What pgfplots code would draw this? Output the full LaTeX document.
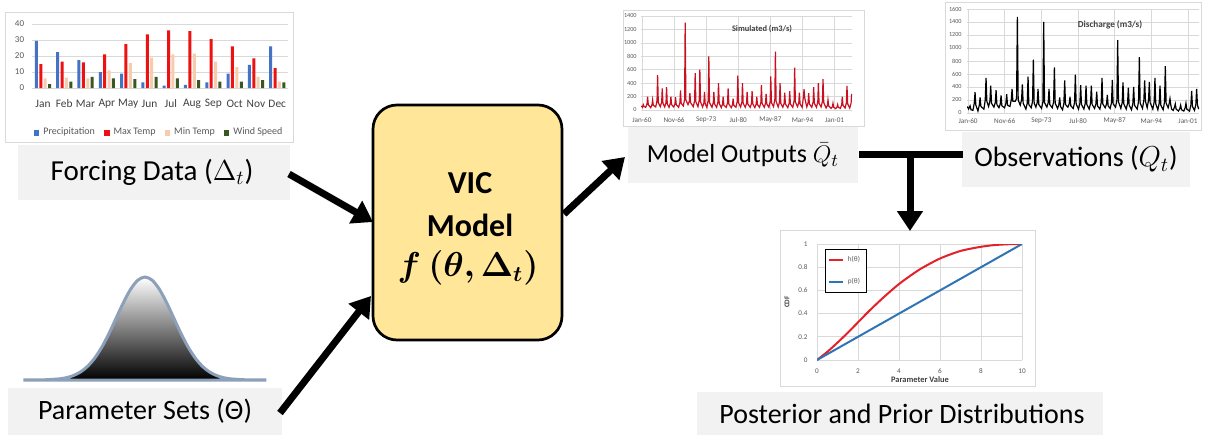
\documentclass[border=0pt]{standalone}
\usepackage{fontspec}
\setmainfont{Carlito}
\usepackage{amsmath,bm}
\usepackage{pgfplots}
\pgfplotsset{compat=1.18}
\usetikzlibrary{arrows.meta}

\definecolor{precip}{RGB}{68,114,196}
\definecolor{maxt}{RGB}{238,17,17}
\definecolor{mint}{RGB}{248,203,173}
\definecolor{wind}{RGB}{56,87,35}
\definecolor{gridc}{RGB}{217,217,217}
\definecolor{ticktext}{RGB}{89,89,89}
\definecolor{boxgray}{RGB}{242,242,242}
\definecolor{vicfill}{RGB}{255,230,153}
\definecolor{simred}{RGB}{200,16,32}
\definecolor{cdfred}{RGB}{228,32,40}
\definecolor{cdfblue}{RGB}{46,117,182}
\definecolor{bellline}{RGB}{140,160,185}

\pgfplotsset{
  excel/.style={
    scale only axis,
    axis line style={draw=none},
    major tick length=0pt,
    grid=major,
    grid style={gridc, line width=0.35pt},
    /pgf/number format/assume math mode=true,
    /pgf/number format/1000 sep={},
    tick label style={text=ticktext},
  },
}
\tikzset{
  boxlabel/.style={font=\fontsize{14}{16}\selectfont},
  flow/.style={line width=3.5pt, -{Triangle[width=12.5pt,length=10pt]}},
  px/.style={x=0.5pt, y=-0.5pt},
}

\begin{document}
\begin{tikzpicture}
% page and chart frames, in pixel units measured from the top-left corner
\begin{scope}[px]
\useasboundingbox (0,0) rectangle (1221,439);
\fill[white] (0,0) rectangle (1221,439);
\draw[gridc, line width=0.5pt, fill=white] (5,12) rectangle (293,142);
\draw[gridc, line width=0.5pt, fill=white] (623,10) rectangle (864,126);
\draw[gridc, line width=0.5pt, fill=white] (945,2) rectangle (1201,130);
\draw[gridc, line width=0.5pt, fill=white] (780,230) rectangle (1035,386);
\end{scope}

% ---------------- monthly forcing data ----------------
\begin{axis}[excel,
  at={(16.15pt,-44pt)}, anchor=south west, width=127.8pt, height=32pt,
  ybar=0.7pt, bar width=1.5pt,
  xmin=-0.5, xmax=11.5, ymin=0, ymax=40,
  xmajorgrids=false,
  ytick={0,10,20,30,40},
  xtick={0,...,11},
  xticklabels={Jan,Feb,Mar,Apr,May,Jun,Jul,Aug,Sep,Oct,Nov,Dec},
  xticklabel style={anchor=center, yshift=-8pt, font=\fontsize{5.7}{7}\selectfont, text=black!75},
  yticklabel style={anchor=east, inner sep=0pt, xshift=-3.9pt, font=\fontsize{4.5}{5}\selectfont},
  legend columns=4,
  legend style={draw=none, fill=none, at={(0.5,-0.70)}, anchor=center,
    font=\fontsize{5}{6}\selectfont, text=ticktext,
    /tikz/every even column/.append style={column sep=2.5pt}},
  legend image code/.code={\fill[#1] (0pt,-1.4pt) rectangle (2.8pt,1.4pt);},
]
\addplot[fill=precip, draw=none] coordinates {(0,29.5) (1,22.5) (2,17.5) (3,10) (4,9) (5,3.5) (6,1.5) (7,2) (8,3.5) (9,9) (10,14.5) (11,26)};
\addplot[fill=maxt, draw=none] coordinates {(0,15) (1,16.5) (2,16) (3,21) (4,27.5) (5,33.5) (6,36) (7,35.5) (8,30.5) (9,26) (10,18.5) (11,12.5)};
\addplot[fill=mint, draw=none] coordinates {(0,6) (1,6.5) (2,6) (3,11) (4,15.5) (5,19) (6,21) (7,21.5) (8,16.5) (9,13) (10,7) (11,4)};
\addplot[fill=wind, draw=none] coordinates {(0,2.5) (1,4) (2,7) (3,6) (4,5.5) (5,7) (6,6) (7,5) (8,4) (9,4) (10,5) (11,3.5)};
\legend{Precipitation, Max Temp, Min Temp, Wind Speed}
\end{axis}

% ---------------- simulated discharge ----------------
\begin{axis}[excel,
  at={(320.5pt,-55pt)}, anchor=south west, width=105.5pt, height=47pt,
  xmin=1959.8, xmax=2004.7, ymin=0, ymax=1400,
  ytick={0,200,...,1400},
  xtick={1960,1966.8333,1973.6667,1980.5,1987.3333,1994.1667,2001},
  xticklabels={Jan-60,Nov-66,Sep-73,Jul-80,May-87,Mar-94,Jan-01},
  xticklabel style={anchor=center, yshift=-5pt, font=\fontsize{3.6}{4}\selectfont},
  yticklabel style={anchor=east, inner sep=0pt, xshift=-2pt, font=\fontsize{3.1}{4}\selectfont},
]
\addplot[simred, line width=0.6pt] coordinates {
(1959.85,60) (1960.1,40) (1960.28,80) (1960.45,50)
(1960.8,40) (1961.08,90) (1961.2,200) (1961.35,80)
(1961.87,35) (1962.15,80) (1962.27,150) (1962.42,70)
(1962.93,45) (1963.21,140) (1963.33,520) (1963.48,110)
(1963.92,50) (1964.2,120) (1964.32,320) (1964.47,100)
(1964.84,45) (1965.12,110) (1965.24,340) (1965.39,90)
(1965.76,40) (1966.04,100) (1966.16,200) (1966.31,80)
(1966.75,45) (1967.03,90) (1967.15,190) (1967.3,80)
(1967.8,40) (1968.08,110) (1968.2,290) (1968.35,100)
(1968.8,60) (1969.08,160) (1969.2,1300) (1969.35,150)
(1969.8,80) (1970.08,130) (1970.2,250) (1970.35,110)
(1970.93,50) (1971.21,140) (1971.33,550) (1971.48,120)
(1971.92,50) (1972.2,150) (1972.32,600) (1972.47,120)
(1972.91,45) (1973.19,110) (1973.31,270) (1973.46,90)
(1973.83,40) (1974.11,150) (1974.23,800) (1974.38,110)
(1974.9,40) (1975.18,110) (1975.3,270) (1975.45,90)
(1975.89,40) (1976.17,120) (1976.29,400) (1976.44,100)
(1976.88,35) (1977.16,90) (1977.28,200) (1977.43,70)
(1977.94,40) (1978.22,110) (1978.34,320) (1978.49,90)
(1979.0,35) (1979.28,80) (1979.4,170) (1979.55,70)
(1980.0,40) (1980.28,130) (1980.4,510) (1980.55,110)
(1980.99,45) (1981.27,120) (1981.39,400) (1981.54,100)
(1981.98,40) (1982.26,100) (1982.38,270) (1982.53,90)
(1983.04,40) (1983.32,100) (1983.44,280) (1983.59,90)
(1984.03,35) (1984.31,90) (1984.43,200) (1984.58,80)
(1985.02,40) (1985.3,110) (1985.42,370) (1985.57,100)
(1986.02,40) (1986.3,100) (1986.42,240) (1986.57,90)
(1987.01,40) (1987.29,130) (1987.41,500) (1987.56,110)
(1988.0,50) (1988.28,160) (1988.4,870) (1988.55,130)
(1988.99,45) (1989.27,120) (1989.39,400) (1989.54,100)
(1989.98,40) (1990.26,100) (1990.38,260) (1990.53,90)
(1991.04,35) (1991.32,100) (1991.44,280) (1991.59,90)
(1992.1,40) (1992.38,140) (1992.5,630) (1992.65,120)
(1993.1,50) (1993.38,110) (1993.5,260) (1993.65,90)
(1994.09,40) (1994.37,200) (1994.49,310) (1994.64,180)
(1995.08,45) (1995.36,110) (1995.48,250) (1995.63,90)
(1996.14,40) (1996.42,120) (1996.54,340) (1996.69,100)
(1997.14,40) (1997.42,120) (1997.54,400) (1997.69,100)
(1998.13,45) (1998.41,130) (1998.53,460) (1998.68,110)
(1999.19,30) (1999.47,70) (1999.59,150) (1999.74,60)
(2000.25,25) (2000.53,50) (2000.65,100) (2000.8,40)
(2001.24,20) (2001.52,45) (2001.64,80) (2001.79,40)
(2002.23,25) (2002.51,80) (2002.63,200) (2002.78,70)
(2003.23,30) (2003.51,110) (2003.63,360) (2003.78,90)
(2004.22,30) (2004.5,100) (2004.62,240)
};
\end{axis}

% ---------------- observed discharge ----------------
\begin{axis}[excel,
  at={(483.5pt,-56.5pt)}, anchor=south west, width=116pt, height=52pt,
  xmin=1959.8, xmax=2003.05, ymin=0, ymax=1600,
  ytick={0,200,...,1600},
  xtick={1960,1966.8333,1973.6667,1980.5,1987.3333,1994.1667,2001},
  xticklabels={Jan-60,Nov-66,Sep-73,Jul-80,May-87,Mar-94,Jan-01},
  xticklabel style={anchor=center, yshift=-4pt, font=\fontsize{3.6}{4}\selectfont},
  yticklabel style={anchor=east, inner sep=0pt, xshift=-2.5pt, font=\fontsize{3.1}{4}\selectfont},
]
\addplot[black, line width=0.6pt] coordinates {
(1959.85,100) (1960.1,60) (1960.37,110) (1960.55,50)
(1960.9,40) (1961.15,150) (1961.3,320) (1961.45,120)
(1961.84,30) (1962.09,120) (1962.24,240) (1962.39,100)
(1962.95,60) (1963.2,200) (1963.35,540) (1963.5,180)
(1963.82,100) (1964.07,180) (1964.22,420) (1964.37,150)
(1964.82,90) (1965.07,160) (1965.22,350) (1965.37,130)
(1965.75,80) (1966.0,140) (1966.15,270) (1966.3,110)
(1966.8,80) (1967.05,150) (1967.2,290) (1967.35,120)
(1967.8,100) (1968.05,200) (1968.2,370) (1968.35,180)
(1968.79,180) (1969.04,220) (1969.19,1480) (1969.34,200)
(1969.72,120) (1969.97,200) (1970.12,440) (1970.27,150)
(1970.78,60) (1971.03,150) (1971.18,560) (1971.33,130)
(1971.77,80) (1972.02,180) (1972.17,820) (1972.32,150)
(1972.64,90) (1972.89,160) (1973.04,370) (1973.19,130)
(1973.7,70) (1973.95,170) (1974.1,1400) (1974.25,160)
(1974.69,90) (1974.94,160) (1975.09,370) (1975.24,130)
(1975.69,80) (1975.94,170) (1976.09,700) (1976.24,150)
(1976.68,70) (1976.93,130) (1977.08,240) (1977.23,100)
(1977.61,50) (1977.86,150) (1978.01,500) (1978.16,130)
(1978.6,90) (1978.85,140) (1979.0,250) (1979.15,110)
(1979.6,70) (1979.85,160) (1980.0,590) (1980.15,140)
(1980.59,60) (1980.84,150) (1980.99,430) (1981.14,130)
(1981.59,60) (1981.84,150) (1981.99,420) (1982.14,130)
(1982.58,60) (1982.83,150) (1982.98,420) (1983.13,130)
(1983.58,70) (1983.83,140) (1983.98,330) (1984.13,110)
(1984.57,60) (1984.82,160) (1984.97,540) (1985.12,140)
(1985.56,80) (1985.81,140) (1985.96,280) (1986.11,110)
(1986.49,70) (1986.74,160) (1986.89,510) (1987.04,140)
(1987.49,90) (1987.74,200) (1987.89,1120) (1988.04,170)
(1988.48,70) (1988.73,160) (1988.88,470) (1989.03,140)
(1989.48,60) (1989.73,150) (1989.88,390) (1990.03,120)
(1990.47,50) (1990.72,150) (1990.87,400) (1991.02,120)
(1991.53,60) (1991.78,180) (1991.93,860) (1992.08,150)
(1992.52,70) (1992.77,200) (1992.92,500) (1993.07,180)
(1993.39,80) (1993.64,200) (1993.79,480) (1993.94,160)
(1994.44,60) (1994.69,170) (1994.84,540) (1994.99,140)
(1995.38,50) (1995.63,150) (1995.78,420) (1995.93,120)
(1996.37,50) (1996.62,170) (1996.77,720) (1996.92,150)
(1997.3,80) (1997.5,150) (1997.64,220) (1997.8,120) (1997.95,60)
(1998.23,40) (1998.48,90) (1998.63,140) (1998.78,60)
(1999.23,30) (1999.48,70) (1999.63,120) (1999.78,50)
(2000.22,30) (2000.47,80) (2000.62,150) (2000.77,60)
(2001.28,30) (2001.53,120) (2001.68,340) (2001.83,100)
(2002.21,40) (2002.46,130) (2002.61,370) (2002.76,120) (2003.0,60)
};
\end{axis}

% ---------------- posterior / prior CDF ----------------
\begin{axis}[excel,
  at={(408.5pt,-180pt)}, anchor=south west, width=102.5pt, height=58pt,
  xmin=0, xmax=10, ymin=0, ymax=1,
  xtick={0,2,...,10}, ytick={0,0.2,...,1},
  yticklabels={0,0.2,0.4,0.6,0.8,1},
  xticklabel style={anchor=center, yshift=-5.5pt, font=\fontsize{3.6}{4}\selectfont},
  yticklabel style={anchor=east, inner sep=0pt, xshift=-4.5pt, font=\fontsize{3.6}{4}\selectfont},
  legend cell align=left,
  legend style={at={(0.04,0.957)}, anchor=north west, draw=black, line width=0.35pt,
    fill=white, font=\fontsize{3.6}{4}\selectfont, text=ticktext, inner sep=1.2pt,
    row sep=3pt},
  legend image code/.code={\draw[#1, line width=1pt] (0pt,0pt) -- (7pt,0pt);},
]
\addplot[cdfred, line width=1pt, smooth] coordinates {
(0,0) (0.5,0.07) (1,0.15) (1.5,0.235) (2,0.325) (2.5,0.415) (3,0.50) (3.5,0.58)
(4,0.655) (4.5,0.72) (5,0.78) (5.5,0.83) (6,0.875) (6.5,0.91) (7,0.94)
(7.5,0.96) (8,0.976) (8.5,0.988) (9,0.995) (9.5,0.999) (10,1)};
\addplot[cdfblue, line width=1pt] coordinates {(0,0) (10,1)};
\legend{h(θ), p(θ)}
\end{axis}

% ---------------- parameter distribution ----------------
\begin{axis}[hide axis, scale only axis, clip=false,
  at={(12.5pt,-190pt)}, anchor=south west, width=120pt, height=51.5pt,
  xmin=-4.2, xmax=4.2, ymin=0, ymax=1]
\addplot[draw=bellline, line width=1.5pt, top color=white, middle color=black!40,
  bottom color=black, smooth] coordinates {
(-4.2,0.0002) (-4,0.0003) (-3.5,0.0022) (-3,0.0111) (-2.75,0.0228) (-2.5,0.0439)
(-2.25,0.0796) (-2,0.1353) (-1.75,0.2163) (-1.5,0.3247) (-1.25,0.4578) (-1,0.6065)
(-0.75,0.7548) (-0.5,0.8825) (-0.25,0.9692) (0,1) (0.25,0.9692) (0.5,0.8825)
(0.75,0.7548) (1,0.6065) (1.25,0.4578) (1.5,0.3247) (1.75,0.2163) (2,0.1353)
(2.25,0.0796) (2.5,0.0439) (2.75,0.0228) (3,0.0111) (3.5,0.0022) (4,0.0003) (4.2,0.0002)}
\closedcycle;
\end{axis}

\begin{scope}[px]
% chart titles and axis names
\node[font=\bfseries\fontsize{4.2}{5}\selectfont, text=black!75] at (762,29) {Simulated (m3/s)};
\node[font=\bfseries\fontsize{4.6}{5}\selectfont, text=black!75] at (1110,25) {Discharge (m3/s)};
\node[rotate=90, font=\bfseries\fontsize{3.6}{4}\selectfont, text=black!75] at (787,302) {CDF};
\node[font=\bfseries\fontsize{4.2}{5}\selectfont, text=black!75] at (920,380) {Parameter Value};

% ---------------- labels ----------------
\fill[boxgray] (18,145) rectangle (290,200);
\node[boxlabel, font=\fontsize{14.5}{16}\selectfont] at (152,172.5) {Forcing Data ($\Delta_t$)};
\fill[boxgray] (8,388) rectangle (282,435);
\node[boxlabel] at (145,411.5) {Parameter Sets (Θ)};
\fill[boxgray] (628,127) rectangle (858,183);
\node[boxlabel, font=\fontsize{13}{16}\selectfont] at (743,155) {Model Outputs $\bar{Q}_t$};
\fill[boxgray] (962,132) rectangle (1190,187);
\node[boxlabel] at (1076,159.5) {Observations ($Q_t$)};
\fill[boxgray] (697,392) rectangle (1103,435);
\node[boxlabel] at (902,413.5) {Posterior and Prior Distributions};

% ---------------- model box ----------------
\draw[line width=1.35pt, fill=vicfill, rounded corners=12pt] (373,105) rectangle (562,340);
\node[font=\bfseries\fontsize{16}{18}\selectfont] at (470,183) {VIC};
\node[font=\bfseries\fontsize{16}{18}\selectfont] at (470,225) {Model};
\node[font=\fontsize{16}{18}\selectfont] at (468,268) {$\bm{f\ (\theta,\Delta_t)}$};

% ---------------- arrows ----------------
\draw[flow] (289,174) -- (373,222);
\draw[flow] (280,413) -- (371,296);
\draw[flow] (564,214) -- (625,157);
\draw[line width=3.5pt] (859,154) -- (963,154);
\draw[flow] (910,152.25) -- (910,231);
\end{scope}
\end{tikzpicture}
\end{document}
